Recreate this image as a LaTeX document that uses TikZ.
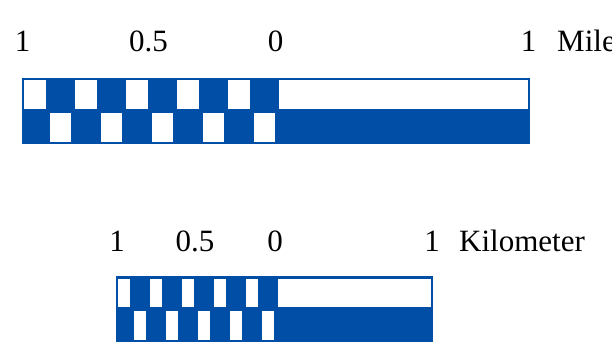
\documentclass[tikz,border=0pt]{standalone}
\usepackage{fontspec}
\setmainfont{Liberation Serif}
\definecolor{barblue}{RGB}{0,78,165}
\begin{document}
\begin{tikzpicture}[x=1pt,y=-1pt,
  lbl/.style={font=\fontsize{31}{36}\selectfont, inner sep=0pt, anchor=base},
  unitlbl/.style={lbl, anchor=base west},
  barbody/.style={fill=barblue},
  cell/.style={fill=white}]
\useasboundingbox (0,0) rectangle (612,347);
% Mile bar
\fill[barbody] (22,78) rectangle (530,144);
\foreach \i in {0,2,...,8}
  \fill[cell] ({22+\i*25.5+2},80) rectangle ({22+(\i+1)*25.5-2},109);
\foreach \i in {1,3,...,9}
  \fill[cell] ({22+\i*25.5+2},113) rectangle ({22+(\i+1)*25.5-2},142);
\fill[cell] (279,80) rectangle (528,109);
\node[lbl] (m1l) at (22.5,52) {1};
\node[lbl] (m05) at (148.5,52) {0.5};
\node[lbl] (m0) at (275.5,52) {0};
\node[lbl] (m1r) at (528.7,52) {1};
\node[unitlbl] (mile) at (557,52) {Mile};
% Kilometer bar
\fill[barbody] (116,276) rectangle (433,342);
\foreach \i in {0,2,...,8}
  \fill[cell] ({116+\i*16+2},278.5) rectangle ({116+(\i+1)*16-2},307);
\foreach \i in {1,3,...,9}
  \fill[cell] ({116+\i*16+2},311) rectangle ({116+(\i+1)*16-2},340);
\fill[cell] (278,278.5) rectangle (431,307);
\node[lbl] (k1l) at (117,251) {1};
\node[lbl] (k05) at (195,251) {0.5};
\node[lbl] (k0) at (275,251) {0};
\node[lbl] (k1r) at (432,251) {1};
\node[unitlbl] (km) at (459,251) {Kilometer};
\end{tikzpicture}
\end{document}
